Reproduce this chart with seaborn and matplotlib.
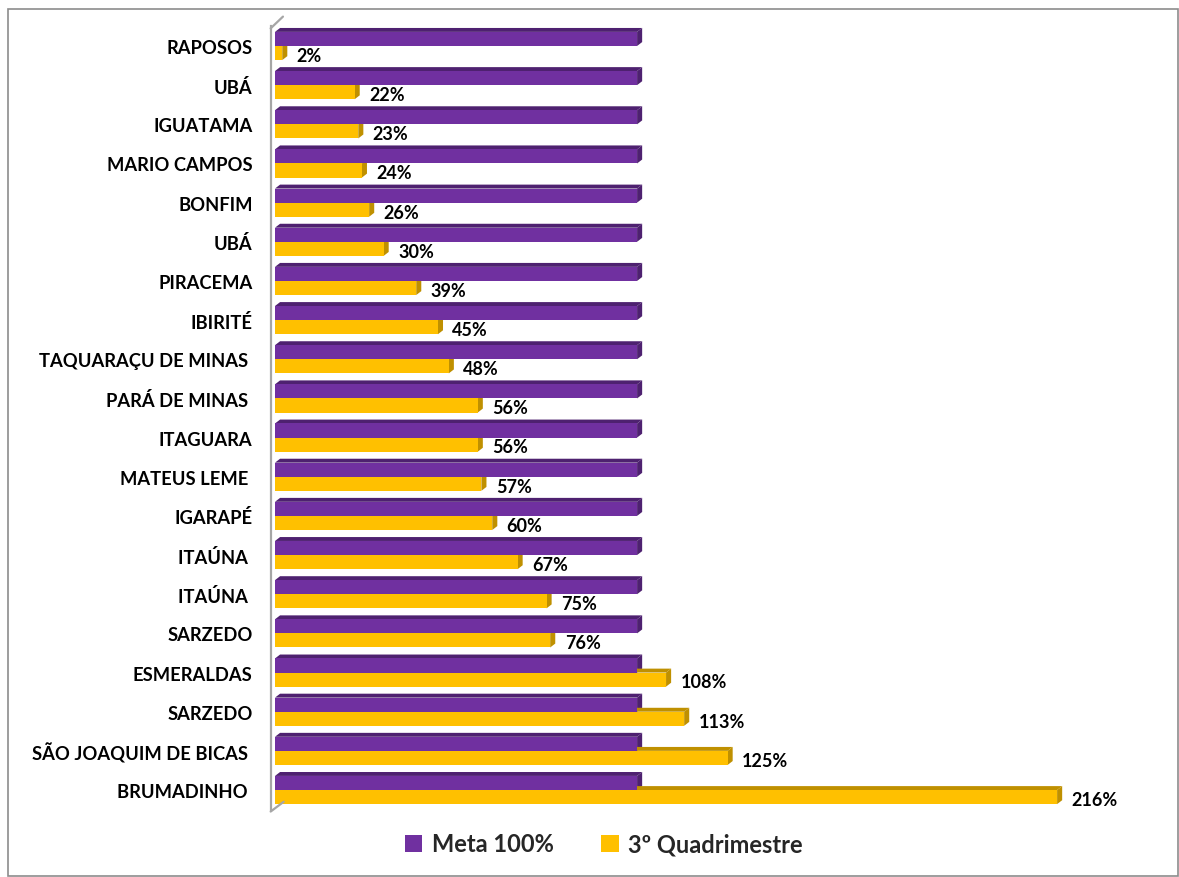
import matplotlib
matplotlib.use('Agg')
import matplotlib.pyplot as plt
from matplotlib.patches import Polygon, Rectangle
import seaborn as sns
import pandas as pd

municipios = ['RAPOSOS', 'UBÁ', 'IGUATAMA', 'MARIO CAMPOS', 'BONFIM', 'UBÁ',
              'PIRACEMA', 'IBIRITÉ', 'TAQUARAÇU DE MINAS ', 'PARÁ DE MINAS ',
              'ITAGUARA', 'MATEUS LEME ', 'IGARAPÉ', 'ITAÚNA ', 'ITAÚNA ',
              'SARZEDO', 'ESMERALDAS', 'SARZEDO', 'SÃO JOAQUIM DE BICAS ',
              'BRUMADINHO ']
meta = [100] * 20
quadrimestre = [2, 22, 23, 24, 26, 30, 39, 45, 48, 56, 56, 57, 60, 67, 75,
                76, 108, 113, 125, 216]
series = ['Meta 100%', '3º Quadrimestre']
colors = {'Meta 100%': '#7030A0', '3º Quadrimestre': '#FFC000'}
side_colors = {'#7030A0': '#4E2170', '#FFC000': '#BF9000'}

pos = [str(i) for i in range(len(municipios))]
df = pd.DataFrame({
    'pos': pos * 2,
    'valor': meta + quadrimestre,
    'serie': [series[0]] * len(pos) + [series[1]] * len(pos),
})

sns.set_style('white')
plt.rcParams['font.family'] = ['Lato', 'DejaVu Sans']
plt.rcParams['font.weight'] = 'bold'

fig = plt.figure(figsize=(11.79, 8.78), dpi=100)
ax = fig.add_axes([275 / 1179, 1 - 810.6 / 878, 869 / 1179, 783.2 / 878])

sns.barplot(data=df, y='pos', x='valor', hue='serie', order=pos,
            hue_order=series, palette=colors, orient='h', width=0.72,
            saturation=1, linewidth=0, ax=ax, legend=True)

ax.set_xlim(0, 240)
ax.set_ylim(len(pos) - 0.5, -0.5)

# 3D-ish faces computed from the bar geometry
dx, dy = 1.4, -0.1
for p in list(ax.patches):
    if not isinstance(p, Rectangle) or p.get_width() <= 0:
        continue
    x0, y0 = p.get_x(), p.get_y()
    x1, h = x0 + p.get_width(), p.get_height()
    fc = matplotlib.colors.to_hex(p.get_facecolor()).upper()
    shade = side_colors.get(fc, '#555555')
    top = Polygon([(x0, y0), (x0 + dx, y0 + dy), (x1 + dx, y0 + dy), (x1, y0)],
                  closed=True, fc=shade, ec='none', zorder=0.5)
    side = Polygon([(x1, y0), (x1 + dx, y0 + dy), (x1 + dx, y0 + h + dy), (x1, y0 + h)],
                   closed=True, fc=shade, ec='none', zorder=0.5)
    ax.add_patch(top)
    ax.add_patch(side)

# data labels on the yellow bars
for i, v in enumerate(quadrimestre):
    ax.text(v + 4, i + 0.24, f'{v}%', ha='left', va='center',
            fontsize=13, fontweight='bold', color='black')

ax.set_yticks(range(len(pos)))
ax.set_yticklabels(municipios)
ax.tick_params(axis='y', length=0, pad=13, labelsize=13.2, labelcolor='black')
ax.set_xticks([])
ax.set_xlabel('')
ax.set_ylabel('')
for s in ['top', 'right', 'bottom']:
    ax.spines[s].set_visible(False)
ax.spines['left'].set_color('#A6A6A6')
ax.spines['left'].set_linewidth(1.6)
ax.spines['left'].set_position(('data', -1.2))

# wall slants at top and bottom
ax.plot([-1.2, 2.2], [-0.45, -0.75], color='#A6A6A6', lw=1.6, clip_on=False)
ax.plot([-1.2, 2.4], [19.55, 19.3], color='#A6A6A6', lw=1.6, clip_on=False)

handles, labels = ax.get_legend_handles_labels()
ax.legend(handles, labels, loc='center', bbox_to_anchor=(0.512, 1 - 845 / 878),
          bbox_transform=fig.transFigure, ncol=2, frameon=False,
          handlelength=0.75, handleheight=0.75, handletextpad=0.4,
          columnspacing=2.0, prop={'size': 17, 'weight': 'bold'})

fig.patches.append(Rectangle((8 / 1179, 0.001), 1 - 8 / 1179 - 0.001, 1 - 10 / 878 - 0.001,
                             transform=fig.transFigure, fill=False,
                             ec='#8C8C8C', lw=1.2))

fig.savefig('out.png', dpi=100)
